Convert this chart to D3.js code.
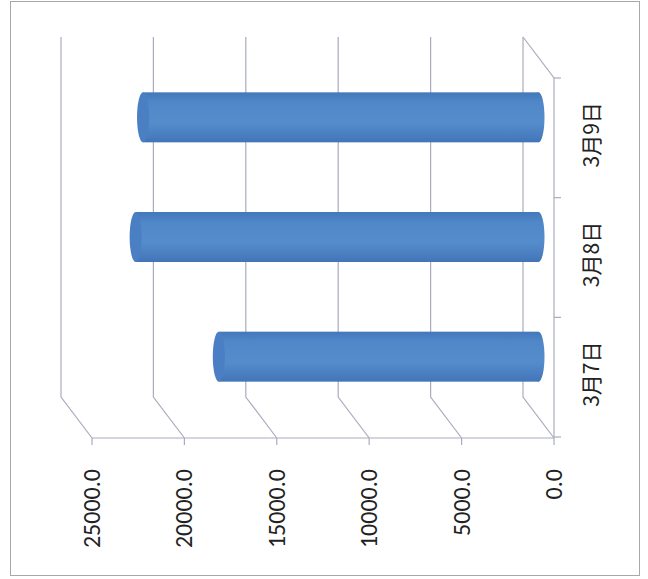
<!DOCTYPE html>
<html>
<head>
<meta charset="utf-8">
<style>
  body { margin: 0; background: #fff; }
  svg { display: block; }
</style>
</head>
<body>
<div id="chart"></div>
<script src="https://cdn.jsdelivr.net/npm/d3@7/dist/d3.min.js"></script>
<script>
// chart values
var categories = ['3月7日', '3月8日', '3月9日'];
var values = [17300, 21800, 21400];
var ticks = [0, 5000, 10000, 15000, 20000, 25000];

var width = 648, height = 579;
// 3d depth offset (back wall is up and to the left)
var dx = -31, dy = -41;

var svg = d3.select('#chart').append('svg')
    .attr('width', width)
    .attr('height', height);

svg.append('rect')
    .attr('x', 0).attr('y', 0).attr('width', width).attr('height', height)
    .attr('fill', '#fff');

// outer frame
svg.append('rect')
    .attr('x', 10.5).attr('y', 1.5).attr('width', 629).attr('height', 574)
    .attr('fill', 'none').attr('stroke', '#a8a8a8').attr('stroke-width', 1);

// the chart is turned a quarter: values run right to left, categories bottom to top
var x = d3.scaleLinear().domain([0, 25000]).range([554, 92]);
var y = d3.scaleBand().domain(categories.slice().reverse()).range([78, 437]);

var grid = '#a9acbd';

// back wall gridlines, bending onto the floor
svg.selectAll('path.grid')
    .data(ticks)
    .enter().append('path')
    .attr('class', 'grid')
    .attr('d', function(d){
        var xf = x(d), xb = x(d) + dx;
        return 'M' + xb + ',' + (78 + dy) + ' L' + xb + ',' + (438 + dy) + ' L' + xf + ',438';
    })
    .attr('fill', 'none')
    .attr('stroke', grid)
    .attr('stroke-width', 1.2);

// side wall top edge + category axis
svg.append('path')
    .attr('d', 'M' + (x(0) + dx) + ',' + (78 + dy) + ' L' + x(0) + ',78 L' + x(0) + ',438')
    .attr('fill', 'none').attr('stroke', grid).attr('stroke-width', 1.2);

// value axis
svg.append('line')
    .attr('x1', x(25000)).attr('x2', x(0)).attr('y1', 438).attr('y2', 438)
    .attr('stroke', grid).attr('stroke-width', 1.2);

svg.selectAll('line.vtick')
    .data(ticks)
    .enter().append('line')
    .attr('class', 'vtick')
    .attr('x1', function(d){ return x(d); })
    .attr('x2', function(d){ return x(d); })
    .attr('y1', 438).attr('y2', 445)
    .attr('stroke', grid).attr('stroke-width', 1.2);

var catTicks = y.domain().map(function(d){ return y(d); }).concat([y.range()[1]]);
svg.selectAll('line.ctick')
    .data(catTicks)
    .enter().append('line')
    .attr('class', 'ctick')
    .attr('x1', x(0)).attr('x2', x(0) + 7)
    .attr('y1', function(d){ return d; })
    .attr('y2', function(d){ return d; })
    .attr('stroke', grid).attr('stroke-width', 1.2);

// cylinder shading
var defs = svg.append('defs');
var grad = defs.append('linearGradient')
    .attr('id', 'cyl').attr('x1', 0).attr('y1', 0).attr('x2', 0).attr('y2', 1);
grad.append('stop').attr('offset', '0%').attr('stop-color', '#4378bb');
grad.append('stop').attr('offset', '20%').attr('stop-color', '#4f87c8');
grad.append('stop').attr('offset', '60%').attr('stop-color', '#558dcc');
grad.append('stop').attr('offset', '100%').attr('stop-color', '#4275b8');

var bw = 50, rx = 6;
var bars = svg.selectAll('g.bar')
    .data(categories.map(function(c, i){ return {cat: c, v: values[i]}; }))
    .enter().append('g')
    .attr('class', 'bar');

function cy(d){ return y(d.cat) + y.bandwidth() / 2 + dy / 2; }
function xm(v){ return x(v) + dx / 2; }

bars.append('ellipse')
    .attr('cx', function(d){ return xm(0); })
    .attr('cy', cy)
    .attr('rx', rx).attr('ry', bw / 2)
    .attr('fill', 'url(#cyl)');

bars.append('rect')
    .attr('x', function(d){ return xm(d.v); })
    .attr('y', function(d){ return cy(d) - bw / 2; })
    .attr('width', function(d){ return xm(0) - xm(d.v); })
    .attr('height', bw)
    .attr('fill', 'url(#cyl)');

bars.append('ellipse')
    .attr('cx', function(d){ return xm(d.v); })
    .attr('cy', cy)
    .attr('rx', rx).attr('ry', bw / 2)
    .attr('fill', '#4a80c3');

// value labels
svg.selectAll('text.vlab')
    .data(ticks)
    .enter().append('text')
    .attr('class', 'vlab')
    .attr('transform', function(d){ return 'translate(' + (x(d) + 8) + ',469) rotate(-90)'; })
    .attr('text-anchor', 'end')
    .attr('font-family', 'Carlito, "Open Sans", "Liberation Sans", sans-serif')
    .attr('font-size', 24)
    .attr('fill', '#222')
    .text(function(d){ return d3.format('.1f')(d); });

// category labels
svg.selectAll('text.clab')
    .data(categories)
    .enter().append('text')
    .attr('class', 'clab')
    .attr('transform', function(d){ return 'translate(' + 599 + ',' + (y(d) + y.bandwidth() / 2 - 3) + ') rotate(-90)'; })
    .attr('text-anchor', 'middle')
    .attr('font-family', '"Noto Sans CJK JP", sans-serif')
    .attr('font-size', 21)
    .attr('fill', '#222')
    .text(function(d){ return d; });
</script>
</body>
</html>
